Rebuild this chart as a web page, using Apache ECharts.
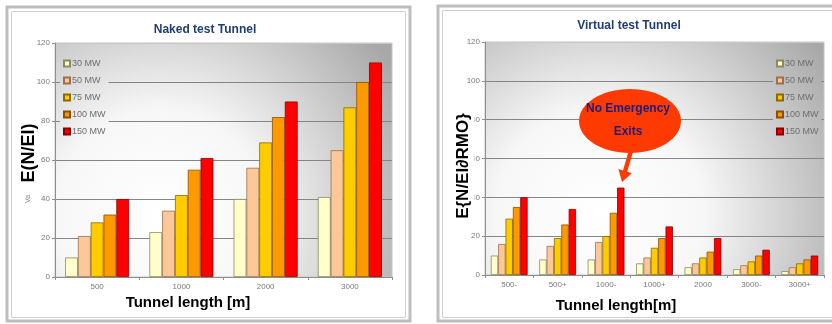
<!DOCTYPE html>
<html>
<head>
<meta charset="utf-8">
<script src="https://cdn.jsdelivr.net/npm/echarts@6/dist/echarts.min.js"></script>
<style>
html,body{margin:0;padding:0;background:#fff;}
#chart{width:832px;height:324px;}
</style>
</head>
<body>
<div id="chart"></div>
<script>
// ---- data ----
const nakedCategories = ['500', '1000', '2000', '3000'];
const virtualCategories = ['500-', '500+', '1000-', '1000+', '2000', '3000-', '3000+'];
const seriesNames = ['30 MW', '50 MW', '75 MW', '100 MW', '150 MW'];

const naked30 = [10, 23, 40, 41];
const naked50 = [21, 34, 56, 65];
const naked75 = [28, 42, 69, 87];
const naked100 = [32, 55, 82, 100];
const naked150 = [40, 61, 90, 110];

const virtual30 = [10, 8, 8, 6, 4, 3, 2];
const virtual50 = [16, 15, 17, 9, 6, 5, 4];
const virtual75 = [29, 19, 20, 14, 9, 7, 6];
const virtual100 = [35, 26, 32, 19, 12, 10, 8];
const virtual150 = [40, 34, 45, 25, 19, 13, 10];

const yMin = 0, yMax = 120, yStep = 20;

const titleNaked = 'Naked test Tunnel';
const titleVirtual = 'Virtual test Tunnel';
const yNameNaked = 'E(N/EI)';
const yNameVirtual = 'E{N/EI\u2202RMO}';
const xNameNaked = 'Tunnel length [m]';
const xNameVirtual = 'Tunnel length[m]';
const calloutLines = ['No Emergency', 'Exits'];

// ---- styles ----
const barColors = ['#ffffcc', '#fdc898', '#ffcc00', '#ff9900', '#ff0000'];
const barBorders = ['#8a8a60', '#9a7050', '#8a6a00', '#8a5200', '#8a0000'];

const chart = echarts.init(document.getElementById('chart'), null, {renderer: 'canvas'});

const bgStops = [
  {offset: 0, color: '#ffffff'},
  {offset: 0.38, color: '#f7f7f7'},
  {offset: 1, color: '#a8a8a8'}
];
function radialBg(cx, cy, r, ox, oy) {
  return {type: 'radial', global: true, x: cx - ox, y: cy - oy, r: r, colorStops: bgStops};
}
const leftCenter = [160, 215], rightCenter = [600, 214], bgR = 275;

function yAxisDef(gi) {
  return {
    gridIndex: gi, type: 'value', min: yMin, max: yMax, interval: yStep,
    axisLine: {show: true, lineStyle: {color: '#8f8f8f', width: 1}},
    axisTick: {show: true, length: 3, lineStyle: {color: '#8f8f8f'}},
    axisLabel: {color: '#7a7a7a', fontSize: 8, margin: 5, fontFamily: 'Liberation Sans'},
    splitLine: {show: true, lineStyle: {color: ['#888888', '#858585', '#858585', '#858585', '#858585', '#858585', '#c8c8c8'], width: 1}}
  };
}
function xAxisDef(gi, cats) {
  return {
    gridIndex: gi, type: 'category', data: cats,
    axisLine: {show: true, lineStyle: {color: '#8f8f8f', width: 1}},
    axisTick: {show: true, length: 3, lineStyle: {color: '#8f8f8f'}},
    axisLabel: {color: '#7a7a7a', fontSize: 8, margin: 6, fontFamily: 'Liberation Sans'}
  };
}

const nakedData = [naked30, naked50, naked75, naked100, naked150];
const virtualData = [virtual30, virtual50, virtual75, virtual100, virtual150];

const series = [];
nakedData.forEach((d, i) => series.push({
  type: 'bar', name: seriesNames[i], xAxisIndex: 0, yAxisIndex: 0, data: d,
  barGap: '0%', barCategoryGap: '24%',
  itemStyle: {color: barColors[i], borderColor: barBorders[i], borderWidth: 0.8},
  emphasis: {disabled: true}, animation: false
}));
virtualData.forEach((d, i) => series.push({
  type: 'bar', name: seriesNames[i], xAxisIndex: 1, yAxisIndex: 1, data: d,
  barGap: '0%', barCategoryGap: '24%',
  itemStyle: {color: barColors[i], borderColor: barBorders[i], borderWidth: 0.8},
  emphasis: {disabled: true}, animation: false
}));

const legendPad = [3, 3, 3, 3];
function legendDef(left, top, center) {
  return {
    left: left, top: top, orient: 'vertical', data: seriesNames,
    itemWidth: 6, itemHeight: 6, itemGap: 8, icon: 'rect',
    padding: legendPad,
    backgroundColor: radialBg(center[0], center[1], bgR, left + legendPad[3], top + legendPad[0]),
    textStyle: {color: '#6e6e6e', fontSize: 9, fontFamily: 'Liberation Sans', padding: [0, 0, 0, -3]},
    selectedMode: false
  };
}

const option = {
  backgroundColor: '#ffffff',
  animation: false,
  grid: [
    {left: 55, top: 43, width: 337, height: 234, show: true, backgroundColor: radialBg(leftCenter[0], leftCenter[1], bgR, 0, 0), borderColor: '#c4c4c4', borderWidth: 1},
    {left: 485, top: 42, width: 339, height: 233, show: true, backgroundColor: radialBg(rightCenter[0], rightCenter[1], bgR, 0, 0), borderColor: '#c4c4c4', borderWidth: 1}
  ],
  xAxis: [xAxisDef(0, nakedCategories), xAxisDef(1, virtualCategories)],
  yAxis: [yAxisDef(0), yAxisDef(1)],
  legend: [
    legendDef(60, 56, leftCenter),
    legendDef(773, 56, rightCenter)
  ],
  series: series,
  graphic: [
    // frames
    {type: 'rect', z: -10, shape: {x: 7, y: 7, width: 403, height: 314}, style: {fill: 'none', stroke: '#bdbdbd', lineWidth: 3}},
    {type: 'rect', z: -10, shape: {x: 11.5, y: 11.5, width: 394, height: 306}, style: {fill: 'none', stroke: '#d0d0d0', lineWidth: 1}},
    {type: 'rect', z: -10, shape: {x: 438, y: 6, width: 420, height: 315}, style: {fill: 'none', stroke: '#bdbdbd', lineWidth: 3}},
    {type: 'rect', z: -10, shape: {x: 442.5, y: 10.5, width: 420, height: 307}, style: {fill: 'none', stroke: '#d0d0d0', lineWidth: 1}},
    // titles
    {type: 'text', z: 100, x: 205, y: 30, style: {text: titleNaked, fill: '#1f3f73', font: 'bold 12px "Liberation Sans"', align: 'center', verticalAlign: 'middle'}},
    {type: 'text', z: 100, x: 629, y: 26, style: {text: titleVirtual, fill: '#1f3f73', font: 'bold 12px "Liberation Sans"', align: 'center', verticalAlign: 'middle'}},
    // axis names
    {type: 'text', z: 100, x: 188, y: 303, style: {text: xNameNaked, fill: '#000', font: 'bold 15px "Liberation Sans"', align: 'center', verticalAlign: 'middle'}},
    {type: 'text', z: 100, x: 616, y: 306, style: {text: xNameVirtual, fill: '#000', font: 'bold 15px "Liberation Sans"', align: 'center', verticalAlign: 'middle'}},
    {type: 'text', z: 100, x: 29, y: 153, rotation: Math.PI / 2, style: {text: yNameNaked, fill: '#000', font: 'bold 18px "Liberation Sans"', align: 'center', verticalAlign: 'middle'}},
    {type: 'text', z: 100, x: 28, y: 199, rotation: Math.PI / 2, style: {text: 'Va', fill: '#888', font: '7px "Liberation Sans"', align: 'center', verticalAlign: 'middle'}},
    {type: 'text', z: 100, x: 463, y: 166, rotation: Math.PI / 2, style: {text: yNameVirtual, fill: '#000', font: 'bold 17px "Liberation Sans"', align: 'center', verticalAlign: 'middle', backgroundColor: '#ffffff', padding: [1, 4, 5, 4]}},
    // callout
    {type: 'ellipse', z: 100, shape: {cx: 630, cy: 121, rx: 51, ry: 32}, style: {fill: '#ff3a00', stroke: 'none'}},
    {type: 'polygon', z: 100, shape: {points: [[628.9, 150], [633.1, 151.5], [627.2, 171.8], [631.8, 173.2], [622, 182], [618.4, 169], [623, 170.5]]}, style: {fill: '#ff3a00', stroke: 'none'}},
    {type: 'text', z: 101, x: 628, y: 109, style: {text: calloutLines[0], fill: '#1c1c7c', font: 'bold 12px "Liberation Sans"', align: 'center', verticalAlign: 'middle'}},
    {type: 'text', z: 101, x: 628, y: 132, style: {text: calloutLines[1], fill: '#1c1c7c', font: 'bold 12px "Liberation Sans"', align: 'center', verticalAlign: 'middle'}}
  ]
};
chart.setOption(option);
</script>
</body>
</html>
